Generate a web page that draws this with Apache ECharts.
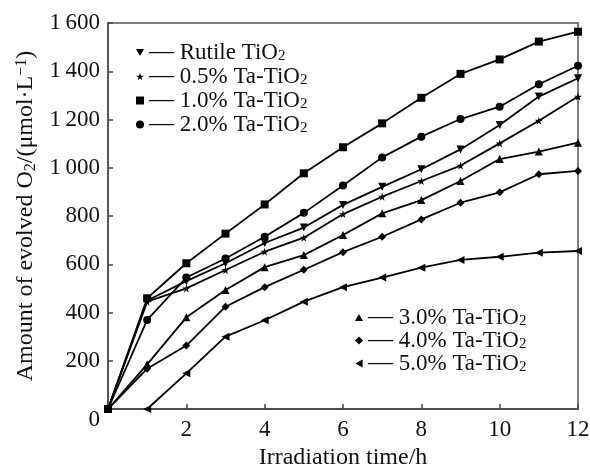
<!DOCTYPE html>
<html>
<head>
<meta charset="utf-8">
<script src="https://cdn.jsdelivr.net/npm/echarts@6/dist/echarts.min.js"></script>
<style>
  html,body{margin:0;padding:0;background:#fff;}
  #chart{width:590px;height:467px;}
</style>
</head>
<body>
<div id="chart"></div>
<script>
(function(){
  // irradiation time, h
  const hours = [0,1,2,3,4,5,6,7,8,9,10,11,12];

  // evolved O2, umol/L
  const rutile = [0,450,530,604,688,752,846,921,994,1076,1177,1295,1371];
  const ta05   = [0,445,500,576,652,710,808,880,945,1009,1101,1195,1295];
  const ta10   = [0,459,604,727,848,977,1085,1184,1290,1389,1449,1523,1564];
  const ta20   = [0,369,545,624,714,813,926,1043,1129,1202,1253,1346,1423];
  const ta30   = [0,185,380,493,588,638,721,811,866,945,1036,1067,1104];
  const ta40   = [0,167,263,424,505,577,650,714,786,855,898,973,987];
  const ta50   = [null,0,148,300,368,445,505,545,586,618,631,648,655];

  const yTicks = [0,200,400,600,800,1000,1200,1400,1600];

  const STAR  = 'path://M50,0 L61,35 L98,35 L68,57 L79,91 L50,70 L21,91 L32,57 L2,35 L39,35 Z';
  const TRI_D = 'path://M0,0 L10,0 L5,9 Z';
  const TRI_U = 'path://M5,0 L10,9 L0,9 Z';
  const TRI_L = 'path://M0,5 L9,0 L9,10 Z';
  const FONT = '"Liberation Serif","DejaVu Serif",serif';

  const defs = [
    {name:'Rutile TiO2',   data:rutile, symbol:TRI_D,     size:8},
    {name:'0.5% Ta-TiO2',  data:ta05,   symbol:STAR,      size:8},
    {name:'1.0% Ta-TiO2',  data:ta10,   symbol:'rect',    size:8},
    {name:'2.0% Ta-TiO2',  data:ta20,   symbol:'circle',  size:8},
    {name:'3.0% Ta-TiO2',  data:ta30,   symbol:TRI_U,     size:8},
    {name:'4.0% Ta-TiO2',  data:ta40,   symbol:'diamond', size:8},
    {name:'5.0% Ta-TiO2',  data:ta50,   symbol:TRI_L,     size:8}
  ];

  const fmtThousand = v => v>=1000 ? String(v).replace(/(\d)(\d{3})$/,'$1\u2009$2') : String(v);

  const legendText = {
    fontFamily:FONT, fontSize:23, color:'#111', lineHeight:22,
    rich:{
      d:{fontFamily:FONT, fontSize:25, color:'#111', lineHeight:22},
      s:{fontFamily:FONT, fontSize:15, color:'#111', lineHeight:8, verticalAlign:'bottom'}
    }
  };
  const legendFmt = name => '{d|\u2014} ' + name.replace(/O2$/, 'O{s|2}');
  const legendItem = d => ({name:d.name, icon:d.symbol});

  const chart = echarts.init(document.getElementById('chart'), null, {renderer:'canvas'});
  chart.setOption({
    backgroundColor:'#fff',
    animation:false,
    grid:{left:108, right:12, top:23, bottom:58, outerBoundsMode:'none', containLabel:false,
      show:true, borderColor:'#555', borderWidth:1.5},
    legend:[
      {
        orient:'vertical', left:131, top:35, itemWidth:8, itemHeight:8, itemGap:-1,
        data:defs.slice(0,4).map(legendItem),
        formatter:legendFmt, textStyle:legendText, selectedMode:false
      },
      {
        orient:'vertical', left:350, top:300, itemWidth:8, itemHeight:8, itemGap:-2,
        data:defs.slice(4).map(legendItem),
        formatter:legendFmt, textStyle:legendText, selectedMode:false
      }
    ],
    xAxis:{
      type:'value', min:0, max:12, interval:2,
      name:'Irradiation time/h', nameLocation:'middle', nameGap:37,
      nameTextStyle:{fontFamily:FONT, fontSize:24, color:'#111'},
      axisLine:{lineStyle:{color:'#444', width:1.5}},
      axisTick:{inside:true, length:5, lineStyle:{color:'#444', width:1.5}},
      axisLabel:{fontFamily:FONT, fontSize:23, color:'#111', margin:9,
        formatter:v => v===0 ? '' : String(v)},
      splitLine:{show:false}
    },
    yAxis:{
      type:'value', min:yTicks[0], max:yTicks[yTicks.length-1], interval:200,
      name:'Amount of evolved O{s|2}/(\u03bcmol\u00b7L{p|\u22121})',
      nameLocation:'middle', nameGap:69,
      nameTextStyle:{fontFamily:FONT, fontSize:24, color:'#111', lineHeight:25,
        rich:{
          s:{fontFamily:FONT, fontSize:16, color:'#111', lineHeight:8, verticalAlign:'bottom'},
          p:{fontFamily:FONT, fontSize:16, color:'#111', lineHeight:8, verticalAlign:'top'}
        }},
      axisLine:{lineStyle:{color:'#444', width:1.5}},
      axisTick:{inside:true, length:5, lineStyle:{color:'#444', width:1.5}},
      axisLabel:{fontFamily:FONT, fontSize:23, color:'#111', margin:8,
        formatter:v => v===0 ? '{z|0}' : fmtThousand(v),
        rich:{z:{fontFamily:FONT, fontSize:23, color:'#111', padding:[22,0,0,0]}}},
      splitLine:{show:false}
    },
    series:defs.map(d => ({
      type:'line', name:d.name,
      data:hours.map((h,i) => [h, d.data[i]]),
      symbol:d.symbol, symbolSize:d.size, showAllSymbol:true,
      connectNulls:false,
      lineStyle:{color:'#000', width:1.8},
      itemStyle:{color:'#000', borderWidth:0}
    }))
  });
  window.addEventListener('resize',()=>chart&&chart.resize());
})();
</script>
</body>
</html>
